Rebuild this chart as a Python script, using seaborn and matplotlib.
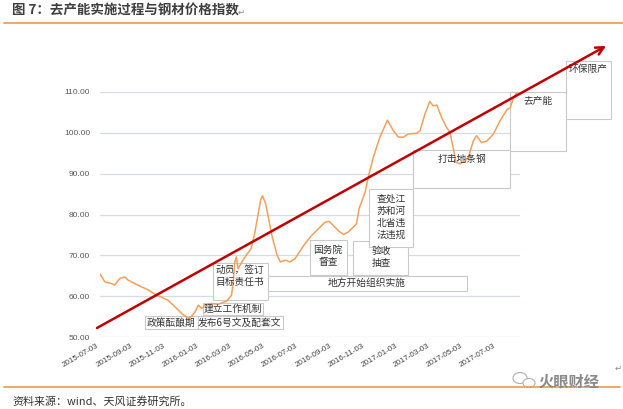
import matplotlib
matplotlib.use("Agg")
import matplotlib.pyplot as plt
import matplotlib.dates as mdates
from matplotlib.patches import Rectangle, Ellipse
from matplotlib.lines import Line2D
import pandas as pd
import seaborn as sns

# ---------------- data ----------------
dates = [
    "2015-07-03", "2015-07-12", "2015-07-24", "2015-07-30", "2015-08-08", "2015-08-18",
    "2015-08-24", "2015-09-11", "2015-09-30", "2015-10-15", "2015-10-24", "2015-11-05",
    "2015-11-18", "2015-11-30", "2015-12-12", "2015-12-18", "2015-12-25", "2015-12-31",
    "2016-01-06", "2016-01-12", "2016-01-24", "2016-02-05", "2016-02-21", "2016-03-01",
    "2016-03-04", "2016-03-07", "2016-03-10", "2016-03-13", "2016-03-22", "2016-03-28",
    "2016-04-06", "2016-04-12", "2016-04-18", "2016-04-24", "2016-04-27", "2016-05-03",
    "2016-05-09", "2016-05-15", "2016-05-24", "2016-05-30", "2016-06-08", "2016-06-17",
    "2016-06-26", "2016-07-02", "2016-07-14", "2016-07-26", "2016-08-08", "2016-08-20",
    "2016-08-28", "2016-09-14", "2016-09-23", "2016-10-02", "2016-10-11", "2016-10-17",
    "2016-10-22", "2016-11-02", "2016-11-08", "2016-11-17", "2016-11-29", "2016-12-13",
    "2016-12-24", "2017-01-02", "2017-01-11", "2017-01-20", "2017-02-05", "2017-02-11",
    "2017-02-20", "2017-03-01", "2017-03-07", "2017-03-14", "2017-03-23", "2017-04-01",
    "2017-04-07", "2017-04-13", "2017-04-18", "2017-04-26", "2017-05-05", "2017-05-11",
    "2017-05-20", "2017-05-26", "2017-06-04", "2017-06-14", "2017-06-26", "2017-07-08",
    "2017-07-21", "2017-07-27", "2017-08-02", "2017-08-08",
]
steel_index = [
    65.4, 63.5, 63.1, 62.7, 64.3, 64.7,
    63.9, 62.7, 61.5, 60.2, 59.8, 59.0,
    57.4, 55.8, 54.6, 55.0, 56.2, 57.8,
    57.0, 57.8, 58.2, 58.0, 58.8, 60.2,
    63.1, 68.4, 69.6, 66.7, 68.8, 70.0,
    71.6, 74.9, 79.3, 83.8, 84.6, 82.6,
    78.5, 74.5, 70.0, 68.4, 68.8, 68.4,
    69.2, 70.4, 72.8, 74.8, 76.5, 78.1,
    78.3, 76.0, 75.1, 75.7, 76.9, 77.7,
    81.5, 85.5, 89.3, 94.0, 98.9, 103.1,
    100.5, 99.0, 98.9, 99.7, 99.9, 100.5,
    104.6, 107.7, 106.6, 106.8, 103.7, 101.3,
    100.1, 96.4, 92.8, 92.4, 93.2, 94.0,
    98.0, 99.3, 97.6, 98.0, 99.7, 102.9,
    105.7, 106.1, 108.6, 109.8,
]
tick_dates = [
    "2015-07-03", "2015-09-03", "2015-11-03", "2016-01-03", "2016-03-03", "2016-05-03",
    "2016-07-03", "2016-09-03", "2016-11-03", "2017-01-03", "2017-03-03", "2017-05-03",
    "2017-07-03",
]
y_ticks = [50, 60, 70, 80, 90, 100, 110]

stage_labels = [
    "政策酝酿期", "发布6号文及配套文", "建立工作机制", "动员，签订\n目标责任书",
    "地方开始组织实施", "国务院\n督查", "验收\n抽查", "查处江\n苏和河\n北省违\n法违规",
    "打击地条钢", "去产能", "环保限产",
]
# box (x0, x1, y0, y1) and text anchor, in axes fraction
stage_boxes = [
    (0.107, 0.233, 0.033, 0.086), (0.233, 0.436, 0.033, 0.086),
    (0.245, 0.388, 0.090, 0.139), (0.269, 0.400, 0.151, 0.302),
    (0.400, 0.874, 0.188, 0.249), (0.500, 0.588, 0.253, 0.396),
    (0.602, 0.733, 0.253, 0.392), (0.640, 0.745, 0.367, 0.604),
    (0.745, 0.976, 0.608, 0.763), (0.976, 1.110, 0.759, 1.000),
    (1.110, 1.217, 0.890, 1.127),
]
stage_text_pos = [
    (0.169, 0.057), (0.333, 0.057), (0.317, 0.114), (0.333, 0.249),
    (0.636, 0.220), (0.543, 0.331), (0.671, 0.327), (0.693, 0.490),
    (0.862, 0.727), (1.043, 0.963), (1.162, 1.094),
]

df = pd.DataFrame({"date": pd.to_datetime(dates), "value": steel_index})

# ---------------- style ----------------
sns.set_theme(style="white")
plt.rcParams["font.family"] = ["Noto Sans CJK SC", "DejaVu Sans"]

W, H = 623, 409
fig = plt.figure(figsize=(W / 100, H / 100), dpi=100)
fig.patch.set_facecolor("white")
ax = fig.add_axes([100 / W, 1 - 337 / H, 420 / W, 245 / H])
ax.set_facecolor("none")

sns.lineplot(data=df, x="date", y="value", ax=ax, color="#F3A05A", lw=1.1, zorder=3)

ax.set_ylim(50, 110)
ax.set_xlim(pd.Timestamp("2015-07-03"), pd.Timestamp("2017-08-14"))
ax.set_yticks(y_ticks)
ax.set_yticklabels([f"{v:.2f}" for v in y_ticks], fontsize=6,
                   family=["Liberation Sans"], color="#595959")
ticks = pd.to_datetime(tick_dates)
ax.set_xticks(ticks)
ax.set_xticklabels(tick_dates, rotation=30, ha="right", fontsize=5.8,
                   family=["Liberation Sans"], color="#404040")
ax.tick_params(axis="both", length=0)
ax.tick_params(axis="y", pad=7)
ax.tick_params(axis="x", pad=4)
ax.set_xlabel("")
ax.set_ylabel("")
for s in ax.spines.values():
    s.set_visible(False)
ax.grid(axis="y", color="#D5DCE6", lw=0.9)
ax.grid(axis="x", visible=False)
ax.set_axisbelow(True)

# stage boxes
for (x0, x1, y0, y1) in stage_boxes:
    ax.add_patch(Rectangle((x0, y0), x1 - x0, y1 - y0, transform=ax.transAxes,
                           facecolor="white", edgecolor="#C9C9C9", lw=0.8,
                           clip_on=False, zorder=1))
for lab, (tx, ty) in zip(stage_labels, stage_text_pos):
    ax.text(tx, ty, lab, transform=ax.transAxes, ha="center", va="center",
            fontsize=7, color="#333333", linespacing=1.25, zorder=5, clip_on=False)

# trend arrow
ax.annotate("", xy=(1.205, 1.188), xytext=(-0.007, 0.037),
            xycoords="axes fraction", textcoords="axes fraction",
            arrowprops=dict(arrowstyle="->", color="#C00000", lw=1.8,
                            mutation_scale=14, shrinkA=0, shrinkB=0),
            annotation_clip=False, zorder=6)

# title, rules, source
fig.text(12.5 / W, 1 - 10.5 / H, "图 7：去产能实施过程与钢材价格指数", fontsize=9.7,
         fontweight="bold", color="#3F3F3F", ha="left", va="center")
fig.text(238 / W, 1 - 12 / H, "↵", fontsize=6, color="#888888", ha="left",
         va="center", family=["DejaVu Sans"])
fig.add_artist(Line2D([4 / W, 1], [1 - 23 / H, 1 - 23 / H], transform=fig.transFigure,
                      color="#E8A25E", lw=1.3))
fig.add_artist(Line2D([4 / W, 620 / W], [1 - 387 / H, 1 - 387 / H],
                      transform=fig.transFigure, color="#E8A25E", lw=1.3))
fig.text(12.5 / W, 1 - 401.5 / H, "资料来源：wind、天风证券研究所。", fontsize=7.9,
         color="#333333", ha="left", va="center")
fig.text(615 / W, 1 - 368 / H, "↵", fontsize=6, color="#888888", ha="left",
         va="center", family=["DejaVu Sans"])

# watermark
fig.add_artist(Ellipse((520 / W, 1 - 378 / H), 14 / W, 11 / H, transform=fig.transFigure,
                       facecolor="white", edgecolor="#B0B0B0", lw=0.8))
fig.add_artist(Ellipse((529 / W, 1 - 383 / H), 12 / W, 9 / H, transform=fig.transFigure,
                       facecolor="white", edgecolor="#B0B0B0", lw=0.8))
fig.text(538 / W, 1 - 381 / H, "火眼财经", fontsize=11, fontweight="bold",
         color="#8A8A8A", ha="left", va="center")

fig.savefig("out.png", dpi=100)
